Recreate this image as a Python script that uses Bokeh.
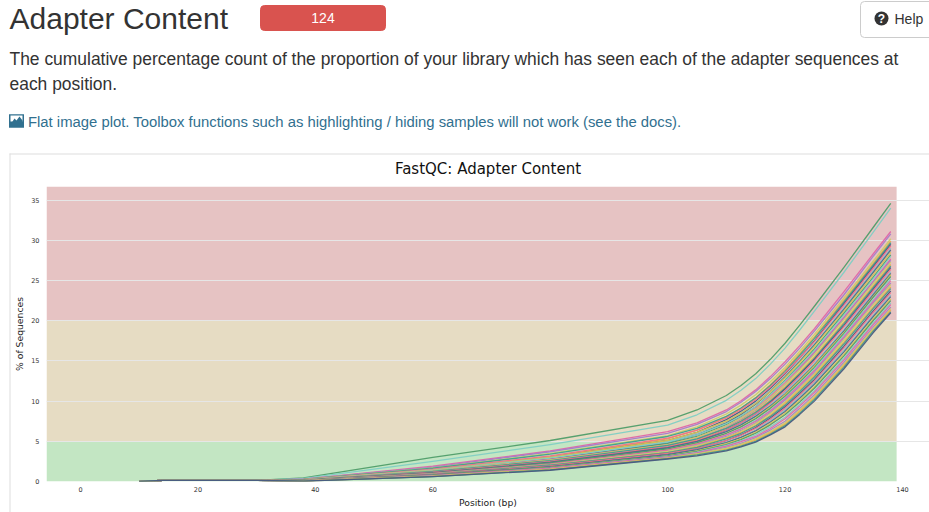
from bokeh.plotting import figure
from bokeh.models import FixedTicker
from bokeh.core.properties import value
from bokeh.embed import file_html
from bokeh.resources import INLINE

# Hand-read estimates. The report has 124 samples; a hand-read subset of the curves is drawn.
head_positions = [10, 14, 30]
head_values = [0, 0.15, 0.15]
positions = [38, 60, 80, 100, 105, 110, 112.5, 115, 117.5, 120, 122.5, 125, 130, 135, 138]

s01 = [.45,3.0,5.1,7.6,8.9,10.7,11.95,13.4,15.2,17.2,19.45,21.8,26.6,31.6,34.6]
s02 = [.4,2.5,4.6,7.0,8.3,10.1,11.35,12.8,14.6,16.6,18.85,21.2,26.0,31.0,34.0]
s03 = [.3,1.9,3.8,6.2,7.3,8.9,10.05,11.4,13.05,14.9,16.9,19.0,23.6,28.3,31.1]
s04 = [.3,1.8,3.7,6.0,7.1,8.7,9.85,11.2,12.8,14.6,16.6,18.7,23.2,28.0,30.8]
s05 = [.25,1.7,3.5,5.7,6.8,8.4,9.5,10.8,12.4,14.2,16.2,18.3,22.8,27.4,30.2]
s06 = [.22,1.5,3.1,5.3,6.4,8.0,9.1,10.4,12.05,13.9,15.9,18.0,22.5,27.1,29.9]
s07 = [.27,1.65,3.4,5.6,6.6,8.1,9.15,10.4,11.95,13.7,15.7,17.8,22.3,26.9,29.7]
s08 = [.2,1.4,3.0,5.1,6.1,7.7,8.75,10.0,11.6,13.4,15.4,17.5,22.1,26.7,29.5]
s09 = [.24,1.55,3.2,5.4,6.4,7.9,8.95,10.2,11.75,13.5,15.4,17.4,21.9,26.5,29.3]
s10 = [.2,1.45,3.0,5.0,6.0,7.5,8.55,9.8,11.35,13.1,15.05,17.1,21.6,26.2,29.0]
s11 = [.18,1.3,2.8,4.8,5.8,7.3,8.35,9.6,11.2,13.0,14.95,17.0,21.4,26.0,28.8]
s12 = [.22,1.4,3.0,5.1,6.1,7.5,8.5,9.7,11.2,12.9,14.8,16.8,21.2,25.7,28.5]
s13 = [.16,1.25,2.7,4.7,5.6,7.1,8.1,9.3,10.85,12.6,14.5,16.5,20.9,25.4,28.2]
s14 = [.2,1.35,2.9,4.9,5.8,7.2,8.15,9.3,10.8,12.5,14.35,16.3,20.7,25.2,28.0]
s15 = [.19,1.3,2.75,4.6,5.5,6.9,7.9,9.1,10.6,12.3,14.15,16.1,20.4,24.9,27.7]
s16 = [.14,1.15,2.5,4.4,5.3,6.7,7.7,8.9,10.4,12.1,14.0,16.0,20.3,24.8,27.5]
s17 = [.17,1.3,2.7,4.6,5.5,6.9,7.85,9.0,10.45,12.1,13.9,15.8,20.1,24.6,27.3]
s18 = [.13,1.1,2.45,4.3,5.2,6.6,7.55,8.7,10.15,11.8,13.6,15.5,19.8,24.3,27.0]
s19 = [.18,1.25,2.6,4.5,5.3,6.6,7.5,8.6,10.0,11.6,13.4,15.3,19.6,24.1,26.8]
s20 = [.12,1.05,2.35,4.2,5.0,6.4,7.3,8.4,9.85,11.5,13.3,15.2,19.4,23.9,26.6]
s21 = [.15,1.15,2.5,4.3,5.1,6.4,7.3,8.4,9.75,11.3,13.1,15.0,19.2,23.7,26.4]
s22 = [.11,1.0,2.3,4.05,4.9,6.2,7.1,8.2,9.55,11.1,12.85,14.7,18.9,23.4,26.1]
s23 = [.14,1.1,2.4,4.2,5.0,6.2,7.05,8.1,9.4,10.9,12.65,14.5,18.7,23.2,25.9]
s24 = [.1,.98,2.2,3.95,4.75,6.0,6.85,7.9,9.25,10.8,12.55,14.4,18.5,23.0,25.7]
s25 = [.13,1.05,2.3,4.05,4.85,6.0,6.8,7.8,9.1,10.6,12.35,14.2,18.4,22.9,25.5]
s26 = [.1,.92,2.1,3.85,4.6,5.8,6.6,7.6,8.9,10.4,12.15,14.0,18.2,22.6,25.2]
s27 = [.12,1.0,2.2,3.9,4.65,5.8,6.55,7.5,8.8,10.3,12.0,13.8,18.0,22.4,25.0]
s28 = [.09,.9,2.05,3.7,4.45,5.6,6.35,7.3,8.6,10.1,11.8,13.6,17.8,22.2,24.7]
s29 = [.11,.95,2.1,3.75,4.45,5.5,6.25,7.2,8.45,9.9,11.6,13.4,17.6,22.0,24.5]
s30 = [.09,.88,2.0,3.6,4.3,5.4,6.1,7.0,8.25,9.7,11.4,13.2,17.3,21.7,24.2]
s31 = [.1,.92,2.05,3.6,4.25,5.3,6.0,6.9,8.1,9.5,11.2,13.0,17.1,21.5,24.0]
s32 = [.08,.82,1.9,3.45,4.1,5.1,5.8,6.7,7.9,9.3,10.95,12.7,16.8,21.2,23.7]
s33 = [.1,.87,1.95,3.5,4.1,5.1,5.75,6.6,7.75,9.1,10.75,12.5,16.6,21.0,23.5]
s34 = [.08,.78,1.8,3.3,3.95,4.9,5.55,6.4,7.55,8.9,10.55,12.3,16.3,20.7,23.2]
s35 = [.09,.82,1.85,3.35,3.95,4.85,5.5,6.3,7.4,8.7,10.35,12.1,16.1,20.5,23.0]
s36 = [.07,.76,1.75,3.2,3.8,4.7,5.3,6.1,7.2,8.5,10.1,11.8,15.8,20.2,22.7]
s37 = [.08,.78,1.75,3.2,3.75,4.6,5.2,6.0,7.05,8.3,9.9,11.6,15.6,20.0,22.5]
s38 = [.07,.7,1.65,3.1,3.65,4.5,5.05,5.8,6.8,8.0,9.6,11.3,15.3,19.7,22.2]
s39 = [.08,.73,1.65,3.05,3.6,4.4,4.95,5.6,6.6,7.8,9.4,11.1,15.1,19.5,22.0]
s40 = [.06,.68,1.55,3.0,3.5,4.25,4.75,5.45,6.4,7.5,9.1,10.8,14.8,19.2,21.7]
s41 = [.07,.68,1.55,2.95,3.45,4.15,4.65,5.3,6.2,7.3,8.9,10.6,14.6,19.0,21.5]
s42 = [.06,.63,1.5,2.9,3.35,4.0,4.5,5.15,6.05,7.1,8.7,10.4,14.4,18.8,21.3]
s43 = [.05,.61,1.45,2.85,3.3,3.9,4.4,5.0,5.9,6.95,8.5,10.2,14.2,18.7,21.1]
s44 = [.05,.6,1.4,2.8,3.2,3.8,4.3,4.9,5.8,6.8,8.35,10.0,14.0,18.5,21.0]
curves = [s01,s02,s03,s04,s05,s06,s07,s08,s09,s10,s11,s12,s13,s14,s15,s16,s17,s18,s19,s20,s21,s22,
          s23,s24,s25,s26,s27,s28,s29,s30,s31,s32,s33,s34,s35,s36,s37,s38,s39,s40,s41,s42,s43,s44]

curve_colors = ["#4f9d69", "#e9a94a", "#4f6f88", "#a57cc8", "#f0708a", "#7fcfc4", "#3f9f8f",
                "#d8c352", "#c9cf68", "#8fb8c8", "#e066a6", "#4a5a7f"]
x_ticks = [0, 20, 40, 60, 80, 100, 120, 140]
y_ticks = [0, 5, 10, 15, 20, 25, 30, 35]
band_low = [0, 5, 20]
band_high = [5, 20, 36.7]
band_colors = ["#c3e6c3", "#e6dcc3", "#e6c3c3"]
band_left = -5.79
band_right = 139.0
x_end = 144.6

INK = "#333333"
LINK = "#31708f"
SANS = value("Liberation Sans")

p = figure(width=929, height=512, x_range=(band_left, x_end), y_range=(0, 36.7), min_border_left=46,
           min_border_right=0, min_border_top=186, min_border_bottom=31, toolbar_location=None,
           output_backend="svg", title="FastQC: Adapter Content")
p.title.align = "center"
p.title.text_font = "DejaVu Sans"
p.title.text_font_size = "15px"
p.title.text_font_style = "normal"
p.title.text_color = "#111111"
p.title.standoff = 17
p.outline_line_color = None
p.xgrid.visible = False
p.ygrid.grid_line_color = "#e6e6e6"
p.ygrid.grid_line_width = 1.2

p.xaxis.ticker = FixedTicker(ticks=x_ticks)
p.yaxis.ticker = FixedTicker(ticks=y_ticks)
for ax in (p.xaxis[0], p.yaxis[0]):
    ax.axis_line_color = None
    ax.major_tick_line_color = None
    ax.minor_tick_line_color = None
    ax.major_tick_out = 0
    ax.major_tick_in = 0
    ax.minor_tick_out = 0
    ax.minor_tick_in = 0
    ax.major_label_text_font = "DejaVu Sans"
    ax.major_label_text_font_size = "6.5px"
    ax.major_label_text_color = "#333333"
    ax.axis_label_text_font = "DejaVu Sans"
    ax.axis_label_text_font_size = "9.25px"
    ax.axis_label_text_font_style = "normal"
    ax.axis_label_text_color = "#222222"
p.xaxis.axis_label = "Position (bp)"
p.yaxis.axis_label = "% of Sequences"
p.xaxis.major_label_standoff = 5
p.yaxis.major_label_standoff = 7
p.xaxis.axis_label_standoff = 2
p.yaxis.axis_label_standoff = 3

p.quad(left=band_left, right=band_right, bottom=band_low, top=band_high, fill_color=band_colors,
       line_color=None, level="image")

for i, s in enumerate(curves):
    p.line(head_positions + positions, head_values + s, line_color=curve_colors[(i * 5) % 12],
           line_width=1.3, line_alpha=0.95, line_join="round")

# Page furniture, drawn in window pixels on a transparent sheet over the chart.
h = figure(width=929, height=512, x_range=(0, 929), y_range=(512, 0), min_border=0, toolbar_location=None,
           output_backend="svg", x_axis_location=None, y_axis_location=None,
           background_fill_alpha=0, border_fill_alpha=0,
           styles={"position": "absolute", "left": "0px", "top": "0px"})
h.grid.visible = False
h.outline_line_color = None


def txt(x, y, text, size, color=INK, style="normal", align="left"):
    h.text([x], [y], text=[text], text_font=SANS, text_font_size=size, text_color=color,
           text_font_style=style, text_align=align, text_baseline="alphabetic")


h.quad(left=[9], right=[929], top=[153], bottom=[154], fill_color="#dddddd", line_color=None)
h.quad(left=[9], right=[10], top=[153], bottom=[512], fill_color="#dddddd", line_color=None)
h.rect([322.5], [17.5], width=125, height=25, fill_color="#d9534f", line_color="#d9534f", border_radius=4)
h.rect([900], [19], width=80, height=36, fill_color="white", line_color="#cccccc", border_radius=4)
h.circle([881], [18], radius=7, fill_color=INK, line_color=None)
txt(881, 18.5, "?", "12px", "white", "bold", "center")
txt(894, 18, "Help", "14px")
txt(9, 18, "Adapter Content", "30px")
txt(322.5, 17.5, "124", "14px", "white", align="center")
txt(9, 58, "The cumulative percentage count of the proportion of your library which has seen each of the adapter sequences at", "17.46px")
txt(9, 83, "each position.", "17.46px")
h.rect([16], [120.5], width=15, height=13.5, fill_color=LINK, line_color=None)
h.rect([16], [118], width=12, height=6, fill_color="white", line_color=None)
h.patch([10, 14, 16, 19, 22, 22, 10], [124, 118, 120, 116, 120, 126, 126], fill_color=LINK, line_color=None)
txt(27.5, 121, "Flat image plot. Toolbox functions such as highlighting / hiding samples will not work (see the docs).", "14.85px", LINK)

open("out.html", "w").write(file_html([p, h], INLINE))
